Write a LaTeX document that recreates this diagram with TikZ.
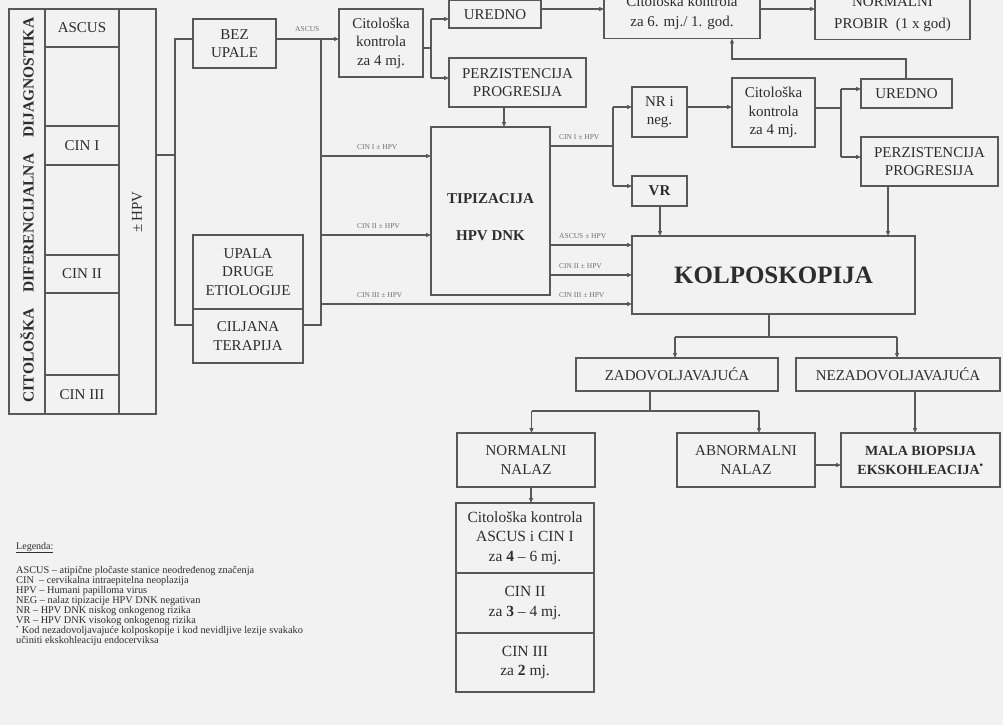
\documentclass[tikz,border=0pt]{standalone}
\usepackage{fontspec}
\setmainfont{Liberation Serif}
\usetikzlibrary{arrows.meta}
\definecolor{bgc}{RGB}{242,242,242}
\definecolor{lc}{RGB}{88,88,88}
\definecolor{tc}{RGB}{45,45,45}
\definecolor{lc2}{RGB}{110,110,110}
\tikzset{
 bx/.style={draw=lc, line width=1.1pt, inner sep=0pt, outer sep=0pt, align=center, text=tc, font=\fontsize{15}{18.5}\selectfont},
 ln/.style={draw=lc, line width=1.1pt},
 arr/.style={draw=lc, line width=1.1pt, -{Triangle[length=5pt,width=4pt]}},
 lab/.style={text=lc2, font=\fontsize{7.5}{8}\selectfont, inner sep=0pt, anchor=base west},
}
\begin{document}
\begin{tikzpicture}[x=1pt,y=-1pt]
\fill[bgc] (0,0) rectangle (1003,725);
\useasboundingbox (0,0) rectangle (1003,725);
\clip (0,0) rectangle (1003,725);

% left diagnostic block
\node[bx, minimum width=147pt, minimum height=405pt] (diag) at (82.5,211.5) {};
\node[bx, minimum width=74pt, minimum height=38pt] (ascus) at (82,28) {ASCUS};
\node[bx, minimum width=74pt, minimum height=39pt] (cin1) at (82,145.5) {CIN I};
\node[bx, minimum width=74pt, minimum height=38pt] (cin2) at (82,274) {CIN II};
\node[bx, minimum width=74pt, minimum height=39pt] (cin3) at (82,394.5) {CIN III};
\draw[ln] (diag.north -| ascus.west) -- (diag.south -| ascus.west);
\draw[ln] (diag.north -| ascus.east) -- (diag.south -| ascus.east);
\node[text=tc, rotate=90, font=\fontsize{15.5}{18}\selectfont\bfseries, inner sep=0pt] (title) at (27,210)
  {CITOLOŠKA\hspace{1.05em}DIFERENCIJALNA\hspace{1.05em}DIJAGNOSTIKA};
\node[text=tc, rotate=90, font=\fontsize{15}{18}\selectfont, inner sep=0pt] (hpv) at (137,212) {±\,HPV};

% boxes
\node[bx, minimum width=83pt, minimum height=49pt] (bez) at (234.5,43.5) {BEZ\\UPALE};
\node[bx, minimum width=110pt, minimum height=74pt] (upala) at (248,272) {UPALA\\DRUGE\\ETIOLOGIJE};
\node[bx, minimum width=110pt, minimum height=54pt] (cil) at (248,336) {CILJANA\\TERAPIJA};
\node[bx, minimum width=84pt, minimum height=68pt] (cit1) at (381,43) {Citološka\\kontrola\\za 4 mj.};
\node[bx, minimum width=92pt, minimum height=27.5pt] (ured1) at (495,14.25) {UREDNO};
\node[bx, minimum width=137pt, minimum height=49pt] (perz1) at (517.5,82.5) {PERZISTENCIJA\\PROGRESIJA};
\node[bx, minimum width=119pt, minimum height=168pt,
  label={[name=tipt, align=center, text=tc, inner sep=0pt, yshift=-6pt, font=\fontsize{15}{18.5}\selectfont\bfseries]center:{TIPIZACIJA\\[18.5pt]HPV DNK}}] (tip) at (490.5,211) {};
\node[bx, minimum width=156pt, minimum height=52pt, font=\fontsize{15}{20}\selectfont] (cit6) at (682,12.5) {Citološka kontrola\\za 6. mj./ 1. god.};
\node[bx, minimum width=155pt, minimum height=51pt, font=\fontsize{15}{22}\selectfont] (norm) at (892.5,14) {NORMALNI\\PROBIR\ \ (1 x god)};
\node[bx, minimum width=55pt, minimum height=50pt] (nr) at (659.5,112) {NR i\\neg.};
\node[bx, minimum width=55pt, minimum height=30pt, font=\fontsize{15}{18.5}\selectfont\bfseries] (vr) at (659.5,191) {VR};
\node[bx, minimum width=83pt, minimum height=69pt] (cit2) at (773.5,112.5) {Citološka\\kontrola\\za 4 mj.};
\node[bx, minimum width=91pt, minimum height=29pt] (ured2) at (906.5,93.5) {UREDNO};
\node[bx, minimum width=137pt, minimum height=49pt] (perz2) at (929.5,161.5) {PERZISTENCIJA\\PROGRESIJA};
\node[bx, minimum width=283pt, minimum height=78pt, font=\fontsize{25}{28}\selectfont\bfseries] (kolp) at (773.5,275) {KOLPOSKOPIJA};
\node[bx, minimum width=202pt, minimum height=33pt] (zad) at (677,374.5) {ZADOVOLJAVAJUĆA};
\node[bx, minimum width=204pt, minimum height=33pt] (nezad) at (898,374.5) {NEZADOVOLJAVAJUĆA};
\node[bx, minimum width=138pt, minimum height=54pt] (normn) at (526,460) {NORMALNI\\NALAZ};
\node[bx, minimum width=138pt, minimum height=54pt] (abn) at (746,460) {ABNORMALNI\\NALAZ};
\node[bx, minimum width=159pt, minimum height=54pt, font=\fontsize{14}{19}\selectfont\bfseries] (mala) at (920.5,460) {MALA BIOPSIJA\\EKSKOHLEACIJA\textsuperscript{•}};
\node[bx, minimum width=138pt, minimum height=70pt, font=\fontsize{15.5}{19.5}\selectfont] (f1) at (525,538) {Citološka kontrola\\ASCUS i CIN I\\za \textbf{4} – 6 mj.};
\node[bx, minimum width=138pt, minimum height=60pt, font=\fontsize{15.5}{19.5}\selectfont] (f2) at (525,603) {CIN II\\za \textbf{3} – 4 mj.};
\node[bx, minimum width=138pt, minimum height=59pt, font=\fontsize{15.5}{19.5}\selectfont] (f3) at (525,662.5) {CIN III\\za \textbf{2} mj.};

% left connectors
\coordinate (L) at (175,155);
\coordinate (Lt) at (175,39);
\coordinate (Lb) at (175,325);
\draw[ln] (diag.east |- L) -- (L);
\draw[ln] (bez.west |- Lt) -- (Lt) -- (Lb) -- (cil.west |- Lb);
\coordinate (Rt) at (321,39);
\coordinate (Rb) at (321,325);
\draw[ln] (bez.east |- Rt) -- (Rt) -- (Rb) -- (cil.east |- Rb);
\draw[arr] (Rt) -- (cit1.west |- Rt);
\coordinate (r1) at (321,156);
\coordinate (r2) at (321,235);
\coordinate (r3) at (321,304);
\draw[arr] (r1) -- (tip.west |- r1);
\draw[arr] (r2) -- (tip.west |- r2);
\draw[arr] (r3) -- (kolp.west |- r3);

% labels on connectors
\node[lab] (lA) at (295,32) {ASCUS};
\node[lab] (l1) at (357,149.5) {CIN I ± HPV};
\node[lab] (l2) at (357,228.5) {CIN II ± HPV};
\node[lab] (l3) at (357,297.5) {CIN III ± HPV};
\node[lab] (l4) at (559,139.5) {CIN I ± HPV};
\node[lab] (l5) at (559,238.5) {ASCUS ± HPV};
\node[lab] (l6) at (559,268.5) {CIN II ± HPV};
\node[lab] (l7) at (559,297.5) {CIN III ± HPV};

% top connectors
\coordinate (c1) at (431,48);
\coordinate (c1a) at (431,19);
\coordinate (c1b) at (431,78);
\draw[ln] (cit1.east |- c1) -- (c1);
\draw[ln] (c1a) -- (c1b);
\draw[arr] (c1a) -- (ured1.west |- c1a);
\draw[arr] (c1b) -- (perz1.west |- c1b);
\coordinate (y9) at (0,9);
\draw[arr] (ured1.east |- y9) -- (cit6.west |- y9);
\draw[arr] (cit6.east |- y9) -- (norm.west |- y9);
\coordinate (x504) at (504,0);
\draw[arr] (perz1.south -| x504) -- (tip.north -| x504);

% right of tipizacija
\coordinate (t1) at (613,146);
\coordinate (t1a) at (613,107);
\coordinate (t1b) at (613,186);
\draw[ln] (tip.east |- t1) -- (t1);
\draw[ln] (t1a) -- (t1b);
\draw[arr] (t1a) -- (nr.west |- t1a);
\draw[arr] (t1b) -- (vr.west |- t1b);
\coordinate (y245) at (0,245);
\coordinate (y275) at (0,275);
\draw[arr] (tip.east |- y245) -- (kolp.west |- y245);
\draw[arr] (tip.east |- y275) -- (kolp.west |- y275);
\coordinate (y107) at (0,107);
\draw[arr] (nr.east |- y107) -- (cit2.west |- y107);
\coordinate (x660) at (660,0);
\draw[arr] (vr.south -| x660) -- (kolp.north -| x660);
\coordinate (c2) at (841,108);
\coordinate (c2a) at (841,89);
\coordinate (c2b) at (841,157);
\draw[ln] (cit2.east |- c2) -- (c2);
\draw[ln] (c2a) -- (c2b);
\draw[arr] (c2a) -- (ured2.west |- c2a);
\draw[arr] (c2b) -- (perz2.west |- c2b);
\coordinate (u2) at (906,59);
\coordinate (u2b) at (732,59);
\draw[arr] (ured2.north -| u2) -- (u2) -- (u2b) -- (cit6.south -| u2b);
\coordinate (x888) at (888,0);
\draw[arr] (perz2.south -| x888) -- (kolp.north -| x888);

% lower part
\coordinate (k) at (769,337);
\coordinate (ka) at (675,337);
\coordinate (kb) at (897,337);
\draw[ln] (kolp.south -| k) -- (k);
\draw[ln] (ka) -- (kb);
\draw[arr] (ka) -- (zad.north -| ka);
\draw[arr] (kb) -- (nezad.north -| kb);
\coordinate (z) at (650,411);
\coordinate (za) at (531.5,411);
\coordinate (zb) at (759,411);
\draw[ln] (zad.south -| z) -- (z);
\draw[ln] (za) -- (zb);
\draw[arr] (za) -- (normn.north -| za);
\draw[arr] (zb) -- (abn.north -| zb);
\coordinate (x915) at (915,0);
\draw[arr] (nezad.south -| x915) -- (mala.north -| x915);
\coordinate (y465) at (0,465);
\draw[arr] (abn.east |- y465) -- (mala.west |- y465);
\coordinate (x531) at (531,0);
\draw[arr] (normn.south -| x531) -- (f1.north -| x531);

% legend
\node[anchor=base west, inner sep=0pt, text=tc, font=\fontsize{10}{10}\selectfont] (leg) at (16,549) {\underline{Legenda:}};
\node[anchor=north west, inner sep=0pt, align=left, text=tc, font=\fontsize{10.3}{10}\selectfont] (legtxt) at (16,566) {%
ASCUS – atipične pločaste stanice neodređenog značenja\\
CIN\ \ – cervikalna intraepitelna neoplazija\\
HPV – Humani papilloma virus\\
NEG – nalaz tipizacije HPV DNK negativan\\
NR – HPV DNK niskog onkogenog rizika\\
VR – HPV DNK visokog onkogenog rizika\\
\textsuperscript{•} Kod nezadovoljavajuće kolposkopije i kod nevidljive lezije svakako\\
učiniti ekskohleaciju endocerviksa};
\end{tikzpicture}
\end{document}
